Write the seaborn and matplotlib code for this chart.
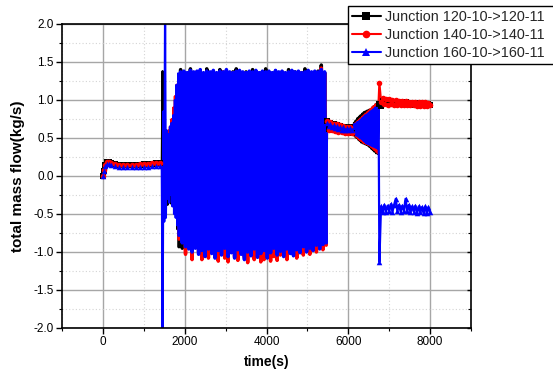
import numpy as np
import pandas as pd
import matplotlib
matplotlib.use("Agg")
import matplotlib.pyplot as plt
import seaborn as sns
from matplotlib.ticker import MultipleLocator, FormatStrFormatter
from matplotlib.lines import Line2D

# ---------------- data ----------------
series_names = ["Junction 120-10->120-11", "Junction 140-10->140-11", "Junction 160-10->160-11"]
series_colors = ["black", "red", "blue"]
series_markers = ["s", "o", "^"]

# segment 1: start-up (explicit times)
t_seg1 = [0, 30, 60, 100, 150, 200, 300, 400, 500, 600, 700, 800, 900, 1000, 1100, 1200, 1300, 1400]
black_seg1 = [0.0, 0.07, 0.14, 0.18, 0.18, 0.17, 0.16, 0.15, 0.15, 0.15, 0.15, 0.15, 0.15, 0.155, 0.16, 0.16, 0.165, 0.17]
red_seg1 = [0.0, 0.08, 0.15, 0.18, 0.18, 0.17, 0.16, 0.15, 0.15, 0.15, 0.15, 0.15, 0.155, 0.16, 0.16, 0.165, 0.17, 0.17]
blue_seg1 = [0.0, 0.06, 0.13, 0.16, 0.16, 0.15, 0.13, 0.12, 0.115, 0.115, 0.115, 0.115, 0.115, 0.12, 0.12, 0.125, 0.13, 0.13]

# segment 2: onset of instability, 1420 .. 1840 s
seg2_range = (1420, 1840)
black_seg2 = [0.16, 0.16, 1.38, -0.35, 0.10, 0.40, -0.30, 0.45, -0.38, 0.50, -0.30, 0.55, -0.36, 0.60,
              -0.30, 0.70, -0.40, 0.90, -0.45, 1.10, -0.70, 1.33]
red_seg2 = [0.17, 0.17, -0.10, 0.45, -0.20, 0.50, -0.25, 0.55, -0.20, 0.60, -0.25, 0.65, -0.20, 0.75,
            -0.22, 0.90, -0.25, 1.05, -0.30, 1.20, -0.40, 1.30]
blue_seg2 = [0.14, 0.14, -2.10, 0.85, -0.60, 2.10, -0.55, 0.60, -0.30, 0.55, -0.35, 0.65, -0.25, 0.70,
             -0.40, 0.80, -0.50, 1.00, -0.55, 1.20, -0.65, 1.35]

# segment 3: large oscillation band, 1860 .. 5460 s (troughs / peaks)
seg3_range = (1860, 5460)
black_band_low = [-0.93, -0.95, -0.90, -0.94, -0.97, -0.92, -0.96, -0.98, -0.93, -0.95,
                  -0.91, -0.96, -0.94, -0.98, -0.92, -0.95, -0.97, -0.93, -0.96, -0.91,
                  -0.95, -0.98, -0.94, -0.92, -0.97, -0.94, -0.96, -0.92, -0.95, -0.98,
                  -0.93, -0.96, -0.94, -0.91, -0.97, -0.93, -0.95, -0.92, -0.94, -0.90,
                  -0.93, -0.91, -0.94, -0.89, -0.92, -0.88]
black_band_high = [1.40, 1.36, 1.35, 1.41, 1.36, 1.37, 1.38, 1.35, 1.41, 1.36,
                   1.37, 1.35, 1.40, 1.36, 1.38, 1.35, 1.37, 1.41, 1.36, 1.35,
                   1.37, 1.36, 1.40, 1.36, 1.35, 1.37, 1.41, 1.36, 1.35, 1.38,
                   1.36, 1.37, 1.35, 1.40, 1.36, 1.37, 1.35, 1.36, 1.41, 1.37,
                   1.36, 1.35, 1.38, 1.46, 1.36]
red_band_low = [-0.83, -0.86, -1.03, -0.93, -1.10, -0.93, -1.00, -1.10, -1.02, -1.08,
                -0.98, -1.06, -1.12, -1.00, -1.08, -1.13, -0.98, -1.06, -1.11, -1.00,
                -1.07, -1.14, -1.01, -1.10, -1.04, -1.13, -1.10, -1.03, -1.12, -1.06,
                -1.11, -1.04, -1.02, -1.10, -0.98, -1.03, -1.08, -0.99, -1.04, -0.96,
                -1.03, -0.95, -1.00, -0.92, -0.97, -0.91]
red_band_high = [1.35, 1.36, 1.34, 1.36, 1.35, 1.37, 1.35, 1.34, 1.36, 1.35,
                 1.36, 1.34, 1.35, 1.37, 1.35, 1.34, 1.36, 1.35, 1.36, 1.34,
                 1.35, 1.37, 1.35, 1.36, 1.34, 1.35, 1.36, 1.35, 1.34, 1.36,
                 1.35, 1.37, 1.34, 1.35, 1.36, 1.35, 1.34, 1.36, 1.35, 1.36,
                 1.35, 1.34, 1.36, 1.42, 1.35]
blue_band_low = [-0.78, -0.88, -0.93, -0.96, -1.00, -0.95, -1.03, -0.98, -1.06, -0.96,
                 -1.02, -1.08, -0.98, -1.04, -0.95, -1.06, -1.01, -1.08, -0.97, -1.03,
                 -1.10, -1.00, -1.05, -0.96, -1.07, -1.02, -0.98, -1.08, -1.01, -0.95,
                 -1.04, -0.99, -1.06, -0.96, -1.02, -1.05, -0.97, -1.01, -0.93, -1.00,
                 -0.95, -0.98, -0.91, -0.96, -0.90, -0.88]
blue_band_high = [1.37, 1.38, 1.36, 1.39, 1.37, 1.38, 1.40, 1.36, 1.38, 1.37,
                  1.39, 1.36, 1.38, 1.37, 1.40, 1.37, 1.36, 1.38, 1.39, 1.37,
                  1.36, 1.38, 1.37, 1.39, 1.36, 1.38, 1.37, 1.38, 1.36, 1.39,
                  1.37, 1.38, 1.36, 1.37, 1.39, 1.37, 1.38, 1.36, 1.37, 1.39,
                  1.37, 1.38, 1.37, 1.40, 1.37]

# segment 4: quiet plateau, 5480 .. 6080 s
seg4_range = (5480, 6080)
black_seg4 = [0.72, 0.62, 0.70, 0.61, 0.69, 0.60, 0.67, 0.60, 0.66, 0.59, 0.65, 0.58, 0.64, 0.58, 0.64, 0.57]
red_seg4 = [0.73, 0.60, 0.71, 0.60, 0.69, 0.59, 0.68, 0.58, 0.67, 0.58, 0.66, 0.57, 0.65, 0.57, 0.65, 0.57]
blue_seg4 = [0.70, 0.66, 0.69, 0.65, 0.67, 0.63, 0.66, 0.62, 0.65, 0.61, 0.64, 0.61, 0.63, 0.60, 0.63, 0.60]

# segment 5: growing oscillation, 6100 .. 6740 s
seg5_range = (6100, 6740)
black_seg5 = [0.67, 0.55, 0.70, 0.52, 0.73, 0.50, 0.76, 0.48, 0.78, 0.46, 0.80, 0.44, 0.82, 0.43, 0.84, 0.42,
              0.85, 0.41, 0.86, 0.40, 0.87, 0.38, 0.88, 0.36, 0.90, 0.34, 0.92, 0.32, 0.94, 0.30, 0.96, 0.29, 0.98]
red_seg5 = [0.66, 0.55, 0.68, 0.53, 0.70, 0.51, 0.72, 0.49, 0.74, 0.47, 0.76, 0.46, 0.78, 0.44, 0.80, 0.43,
            0.82, 0.42, 0.84, 0.41, 0.86, 0.40, 0.88, 0.38, 0.90, 0.36, 0.92, 0.34, 0.94, 0.32, 0.96, 0.30, 0.96]
blue_seg5 = [0.66, 0.56, 0.68, 0.54, 0.69, 0.53, 0.71, 0.52, 0.72, 0.50, 0.74, 0.49, 0.76, 0.47, 0.78, 0.45,
             0.80, 0.43, 0.81, 0.42, 0.83, 0.41, 0.85, 0.40, 0.86, 0.39, 0.88, 0.38, 0.90, 0.37, 0.92, 0.36, 0.93]

# segment 6: split into two branches, 6760 .. 8000 s
seg6_range = (6760, 8000)
black_seg6 = [0.95, 0.92, 0.99, 0.96, 0.99, 0.96, 0.99, 0.96, 0.98, 0.96, 0.98, 0.95, 0.97, 0.95, 0.97, 0.95,
              0.97, 0.95, 0.96, 0.94, 0.96, 0.94, 0.96, 0.94, 0.96, 0.94, 0.95, 0.94, 0.95, 0.93, 0.95, 0.94]
red_seg6 = [1.22, 0.98, 1.02, 0.95, 1.01, 0.94, 1.01, 0.95, 1.00, 0.94, 1.00, 0.94, 0.99, 0.94, 0.99, 0.93,
            0.99, 0.93, 0.98, 0.93, 0.98, 0.93, 0.98, 0.92, 0.97, 0.92, 0.97, 0.92, 0.97, 0.92, 0.96, 0.93]
blue_seg6 = [-1.13, -0.40, -0.48, -0.38, -0.47, -0.39, -0.46, -0.37, -0.47, -0.38, -0.30, -0.46, -0.38, -0.47,
             -0.39, -0.46, -0.30, -0.46, -0.38, -0.48, -0.40, -0.47, -0.39, -0.49, -0.40, -0.48, -0.41, -0.49,
             -0.40, -0.49, -0.41, -0.48]


# ---------------- assemble ----------------
def interleave(lows, highs):
    m = min(len(lows) - 1, len(highs))
    out = []
    for i in range(m):
        out.append(lows[i])
        out.append(highs[i])
    out.append(lows[m])
    return out


def build(name, seg1, seg2, low3, high3, seg4, seg5, seg6):
    n1 = min(len(t_seg1), len(seg1))
    frames = [pd.DataFrame({"time": t_seg1[:n1], "flow": seg1[:n1], "phase": 1})]
    for ph, vals, rng in ((2, seg2, seg2_range), (3, interleave(low3, high3), seg3_range),
                          (4, seg4, seg4_range), (5, seg5, seg5_range), (6, seg6, seg6_range)):
        frames.append(pd.DataFrame({"time": np.linspace(rng[0], rng[1], len(vals)),
                                    "flow": vals, "phase": ph}))
    out = pd.concat(frames, ignore_index=True)
    out["series"] = name
    return out


df = pd.concat([
    build(series_names[0], black_seg1, black_seg2, black_band_low, black_band_high, black_seg4, black_seg5, black_seg6),
    build(series_names[1], red_seg1, red_seg2, red_band_low, red_band_high, red_seg4, red_seg5, red_seg6),
    build(series_names[2], blue_seg1, blue_seg2, blue_band_low, blue_band_high, blue_seg4, blue_seg5, blue_seg6),
], ignore_index=True)
slow = df[df["phase"].isin([1, 4, 6])]
band = df[df["phase"] == 3]

# ---------------- plot ----------------
sns.set_theme(style="white")
plt.rcParams["font.family"] = ["Liberation Sans", "DejaVu Sans"]
plt.rcParams["axes.unicode_minus"] = False
plt.rcParams["path.simplify"] = False

W, H = 553, 374
fig = plt.figure(figsize=(W / 100, H / 100), dpi=100)
ax = fig.add_axes([62 / W, 46 / H, 409 / W, 304 / H])

for name, color, marker in zip(series_names, series_colors, series_markers):
    sub = df[df["series"] == name]
    sns.lineplot(data=sub, x="time", y="flow", color=color, estimator=None, sort=False,
                 linewidth=1.6, legend=False, ax=ax)
    sns.lineplot(data=band[band["series"] == name], x="time", y="flow", color=color,
                 estimator=None, sort=False, linewidth=2.5, legend=False, ax=ax)
    sns.scatterplot(data=slow[slow["series"] == name], x="time", y="flow", color=color,
                    marker=marker, s=16, linewidth=0, legend=False, ax=ax, zorder=3)

ax.set_xlim(-1000, 9000)
ax.set_ylim(-2.0, 2.0)
ax.xaxis.set_major_locator(MultipleLocator(2000))
ax.xaxis.set_minor_locator(MultipleLocator(1000))
ax.yaxis.set_major_locator(MultipleLocator(0.5))
ax.yaxis.set_minor_locator(MultipleLocator(0.25))
ax.yaxis.set_major_formatter(FormatStrFormatter("%.1f"))

ax.set_axisbelow(True)
ax.grid(True, which="major", color="#a6a6a6", linewidth=1.0, linestyle="-")
ax.grid(True, which="minor", color="#d4d4d4", linewidth=0.8, linestyle=(0, (1, 2)))

for s in ax.spines.values():
    s.set_color("black")
    s.set_linewidth(1.2)
    s.set_visible(True)

ax.tick_params(axis="both", which="major", direction="out", length=4, width=1.0,
               color="black", labelsize=8.5, labelcolor="black", bottom=True, left=True, pad=2)
ax.tick_params(axis="both", which="minor", direction="out", length=2.5, width=0.8,
               color="black", bottom=True, left=True)

ax2 = ax.twinx()
ax2.set_ylim(-2.0, 2.0)
ax2.yaxis.set_major_locator(MultipleLocator(0.5))
ax2.yaxis.set_minor_locator(MultipleLocator(0.25))
ax2.tick_params(axis="y", which="major", direction="in", length=3, width=1.0, color="black",
                right=True, labelright=False)
ax2.tick_params(axis="y", which="minor", direction="in", length=2, width=0.8, color="black",
                right=True, labelright=False)
for s in ax2.spines.values():
    s.set_visible(False)
ax2.grid(False)

ax.set_xlabel("time(s)", fontsize=10, fontweight="bold", color="black", labelpad=5)
ax.set_ylabel("total mass flow(kg/s)", fontsize=11, fontweight="bold", color="black", labelpad=6)

handles = [Line2D([], [], color=c, marker=m, markersize=5.5, linewidth=1.5, markeredgewidth=0)
           for c, m in zip(series_colors, series_markers)]
leg = fig.legend(handles, series_names, loc="upper left", mode="expand",
                 bbox_to_anchor=(348 / W, 1 - 6 / H, 215 / W, 0), bbox_transform=fig.transFigure,
                 frameon=True, fancybox=False, edgecolor="black", framealpha=1,
                 fontsize=10.4, borderpad=0.25, labelspacing=0.3, handlelength=2.0,
                 handletextpad=0.3, borderaxespad=0)
leg.get_frame().set_linewidth(1.0)

fig.savefig("out.png", dpi=100)
